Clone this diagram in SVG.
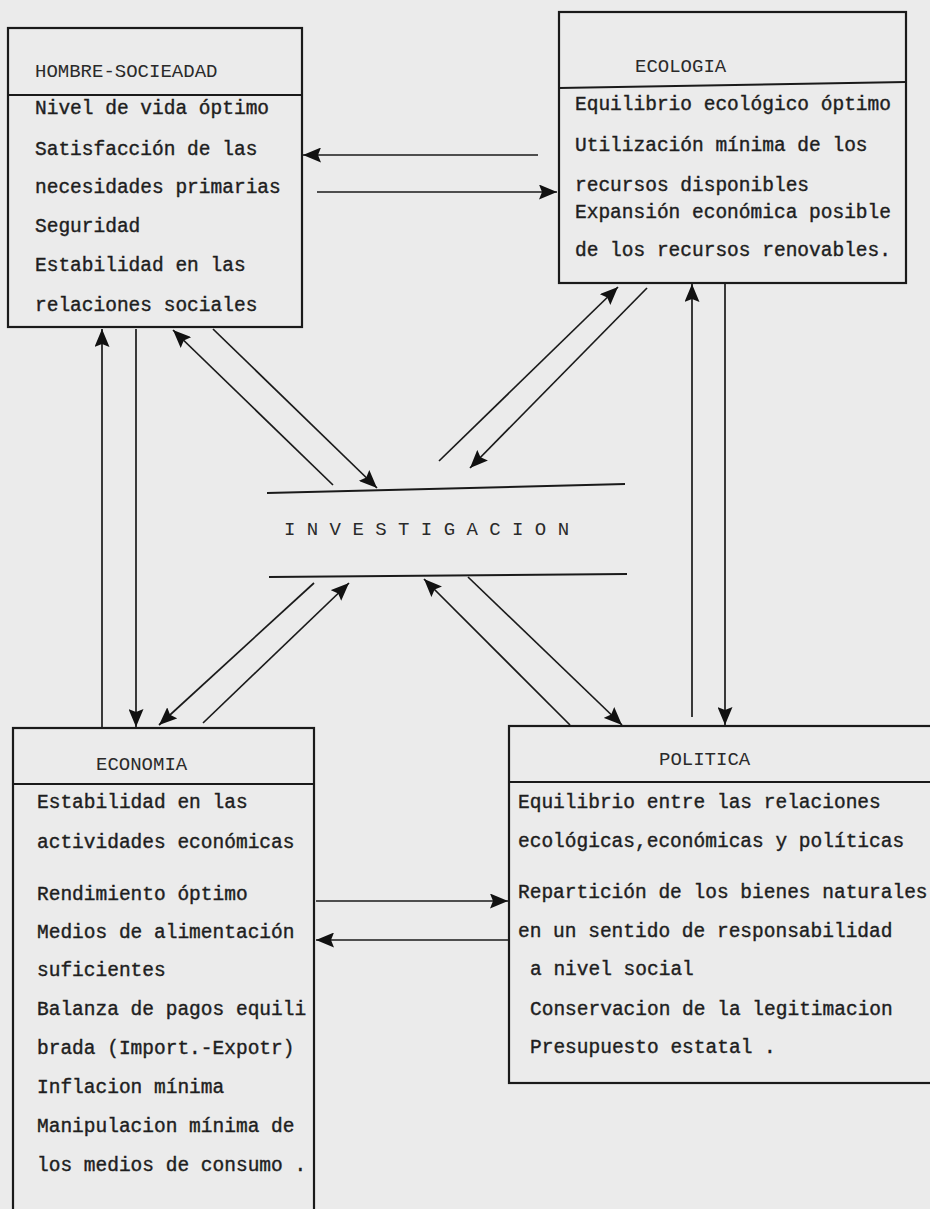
<svg xmlns="http://www.w3.org/2000/svg" width="930" height="1209" viewBox="0 0 930 1209">
<defs>
<marker id="ah" markerUnits="userSpaceOnUse" markerWidth="19" markerHeight="15" refX="18" refY="7.5" orient="auto">
<path d="M0,0 L18,7.5 L0,15 L3,7.5 z" fill="#111"/>
</marker>
</defs>
<style>
.box{fill:none;stroke:#1a1a1a;stroke-width:2.2}
.div{stroke:#1a1a1a;stroke-width:2}
.t{font-family:"Liberation Mono","DejaVu Sans Mono",monospace;font-size:19.5px;fill:#1e1e1e;stroke:#1e1e1e;stroke-width:0.4}
.h{font-family:"Liberation Mono","DejaVu Sans Mono",monospace;font-size:19px;fill:#2a2a2a}
.c{stroke:#1a1a1a;stroke-width:1.7;fill:none;marker-end:url(#ah)}
</style>
<rect width="930" height="1209" fill="#ebebeb"/>

<g id="hombre-sociedad">
<rect class="box" x="8" y="28" width="294" height="299"/>
<line class="div" x1="8" y1="95" x2="302" y2="95"/>
<text class="h" x="35" y="77">HOMBRE-SOCIEADAD</text>
<text class="t" x="35" y="114">Nivel de vida óptimo</text>
<text class="t" x="35" y="155">Satisfacción de las</text>
<text class="t" x="35" y="193">necesidades primarias</text>
<text class="t" x="35" y="232">Seguridad</text>
<text class="t" x="35" y="271">Estabilidad en las</text>
<text class="t" x="35" y="311">relaciones sociales</text>
</g>

<g id="ecologia">
<rect class="box" x="559" y="12" width="347" height="271"/>
<line class="div" x1="559" y1="88" x2="906" y2="82"/>
<text class="h" x="635" y="72">ECOLOGIA</text>
<text class="t" x="575" y="110">Equilibrio ecológico óptimo</text>
<text class="t" x="575" y="151">Utilización mínima de los</text>
<text class="t" x="575" y="191">recursos disponibles</text>
<text class="t" x="575" y="218">Expansión económica posible</text>
<text class="t" x="575" y="256">de los recursos renovables.</text>
</g>

<g id="investigacion">
<line class="div" x1="267" y1="493" x2="625" y2="484"/>
<line class="div" x1="269" y1="577" x2="627" y2="574"/>
<text class="h" x="284" y="535" font-size="19.5px">I N V E S T I G A C I O N</text>
</g>

<g id="economia">
<rect class="box" x="13" y="728" width="301" height="500"/>
<line class="div" x1="13" y1="784" x2="314" y2="784"/>
<text class="h" x="96" y="770">ECONOMIA</text>
<text class="t" x="37" y="808">Estabilidad en las</text>
<text class="t" x="37" y="848">actividades económicas</text>
<text class="t" x="37" y="900">Rendimiento óptimo</text>
<text class="t" x="37" y="938">Medios de alimentación</text>
<text class="t" x="37" y="976">suficientes</text>
<text class="t" x="37" y="1015">Balanza de pagos equili</text>
<text class="t" x="37" y="1054">brada (Import.-Expotr)</text>
<text class="t" x="37" y="1093">Inflacion mínima</text>
<text class="t" x="37" y="1132">Manipulacion mínima de</text>
<text class="t" x="37" y="1171">los medios de consumo .</text>
</g>

<g id="politica">
<rect class="box" x="509" y="726" width="440" height="357"/>
<line class="div" x1="509" y1="782" x2="940" y2="782"/>
<text class="h" x="659" y="765">POLITICA</text>
<text class="t" x="518" y="808">Equilibrio entre las relaciones</text>
<text class="t" x="518" y="847">ecológicas,económicas y políticas</text>
<text class="t" x="518" y="898">Repartición de los bienes naturales</text>
<text class="t" x="518" y="937">en un sentido de responsabilidad</text>
<text class="t" x="530" y="975">a nivel social</text>
<text class="t" x="530" y="1015">Conservacion de la legitimacion</text>
<text class="t" x="530" y="1053">Presupuesto estatal .</text>
</g>

<g id="connectors">
<line class="c" x1="538" y1="155" x2="303" y2="155"/>
<line class="c" x1="317" y1="192" x2="557" y2="192"/>
<line class="c" x1="102" y1="727" x2="102" y2="329"/>
<line class="c" x1="136" y1="329" x2="136" y2="727"/>
<line class="c" x1="333" y1="485" x2="173" y2="330"/>
<line class="c" x1="213" y1="329" x2="377" y2="488"/>
<line class="c" x1="439" y1="461" x2="618" y2="287"/>
<line class="c" x1="647" y1="288" x2="470" y2="468"/>
<line class="c" x1="314" y1="583" x2="159" y2="725"/>
<line class="c" x1="203" y1="723" x2="349" y2="583"/>
<line class="c" x1="570" y1="725" x2="424" y2="579"/>
<line class="c" x1="468" y1="577" x2="622" y2="725"/>
<line class="c" x1="692" y1="717" x2="692" y2="284"/>
<line class="c" x1="725" y1="284" x2="725" y2="725"/>
<line class="c" x1="316" y1="901" x2="508" y2="901"/>
<line class="c" x1="508" y1="940" x2="316" y2="940"/>
</g>
</svg>
